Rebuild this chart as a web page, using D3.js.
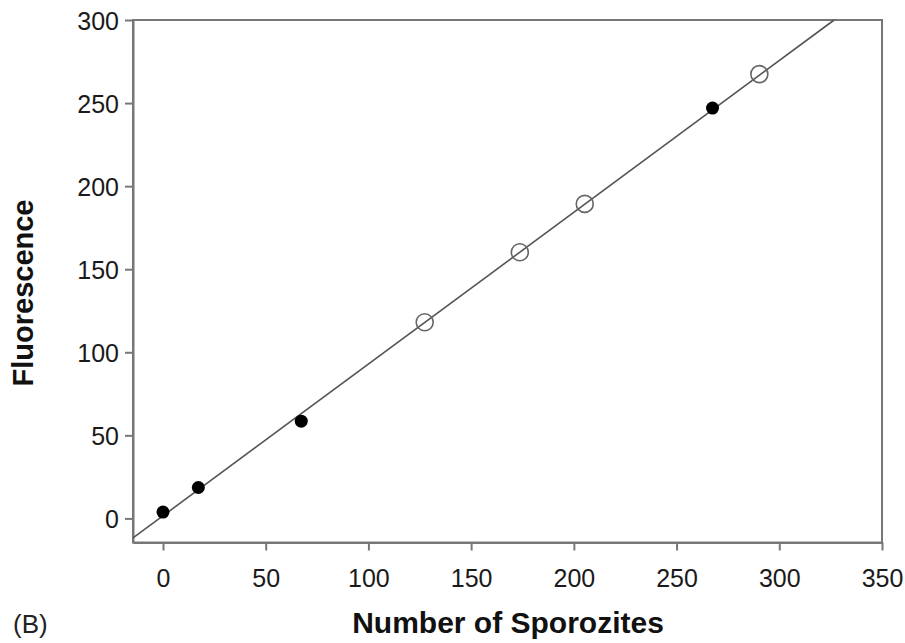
<!DOCTYPE html>
<html>
<head>
<meta charset="utf-8">
<script src="https://cdn.jsdelivr.net/npm/d3@7"></script>
<style>
  body { margin: 0; background: #fff; }
  svg { font-family: "Liberation Sans", Arial, Helvetica, sans-serif; }
  .axis text { font-size: 25px; fill: #1a1a1a; }
  .axis line, .axis path { stroke: #777; stroke-width: 2; }
  .axis-title { font-size: 29px; font-weight: bold; fill: #111; }
</style>
</head>
<body>
<svg id="chart"></svg>
<script>
// filled points
const filledX = [0, 17.2, 67.3, 267.5];
const filledY = [3.8, 18.6, 58.5, 247];
// open points
const openX = [127.4, 173.7, 205.3, 290.3];
const openY = [118.1, 160.2, 189.3, 267.4];
// regression line
const fitSlope = 0.9135;
const fitIntercept = 1.56;

const xTicks = [0, 50, 100, 150, 200, 250, 300, 350];
const yTicks = [0, 50, 100, 150, 200, 250, 300];

const width = 905, height = 643;
const margin = {top: 20, right: 23, bottom: 100, left: 133};

const svg = d3.select('#chart')
  .attr('width', width)
  .attr('height', height);

const x = d3.scaleLinear()
  .domain([-14.6, 350])
  .range([margin.left, width - margin.right]);

const y = d3.scaleLinear()
  .domain([-14.5, 300])
  .range([height - margin.bottom - 0.5, margin.top]);

// frame (top and right)
svg.append('rect')
  .attr('x', x(-14.6))
  .attr('y', y(300))
  .attr('width', x(350) - x(-14.6))
  .attr('height', y(-14.5) - y(300))
  .attr('fill', 'none')
  .attr('stroke', '#777')
  .attr('stroke-width', 2);

const xAxis = d3.axisBottom(x).tickValues(xTicks).tickSize(8).tickSizeOuter(0).tickPadding(14);
const yAxis = d3.axisLeft(y).tickValues(yTicks).tickSize(8).tickSizeOuter(0).tickPadding(6);

svg.append('g')
  .attr('class', 'axis x-axis')
  .attr('transform', `translate(0,${y(-14.5)})`)
  .call(xAxis)
  .call(g => g.selectAll('text').attr('dy', '0.9em'));

svg.append('g')
  .attr('class', 'axis y-axis')
  .attr('transform', `translate(${x(-14.6)},0)`)
  .call(yAxis)
  .call(g => g.selectAll('text').attr('dy', '0.36em'));

// fitted line, from left edge up to the top of the frame
const x0 = -14.6;
const x1 = (300 - fitIntercept) / fitSlope;
svg.append('line')
  .attr('x1', x(x0))
  .attr('y1', y(fitSlope * x0 + fitIntercept))
  .attr('x2', x(x1))
  .attr('y2', y(300))
  .attr('stroke', '#555')
  .attr('stroke-width', 1.6);

svg.selectAll('.open')
  .data(openX.map((d, i) => ({x: d, y: openY[i]})))
  .join('circle')
  .attr('class', 'open')
  .attr('cx', d => x(d.x))
  .attr('cy', d => y(d.y))
  .attr('r', 8.5)
  .attr('fill', 'none')
  .attr('stroke', '#666')
  .attr('stroke-width', 1.6);

svg.selectAll('.filled')
  .data(filledX.map((d, i) => ({x: d, y: filledY[i]})))
  .join('circle')
  .attr('class', 'filled')
  .attr('cx', d => x(d.x))
  .attr('cy', d => y(d.y))
  .attr('r', 6.5)
  .attr('fill', '#000');

// titles
svg.append('text')
  .attr('class', 'axis-title')
  .attr('text-anchor', 'middle')
  .attr('transform', `translate(33,293) rotate(-90)`)
  .text('Fluorescence');

svg.append('text')
  .attr('class', 'axis-title')
  .attr('x', 508)
  .attr('y', 633)
  .attr('font-size', 30)
  .style('font-size', '30px')
  .attr('text-anchor', 'middle')
  .text('Number of Sporozites');

svg.append('text')
  .attr('x', 13)
  .attr('y', 633)
  .attr('font-size', 26)
  .attr('fill', '#222')
  .text('(B)');
</script>
</body>
</html>
